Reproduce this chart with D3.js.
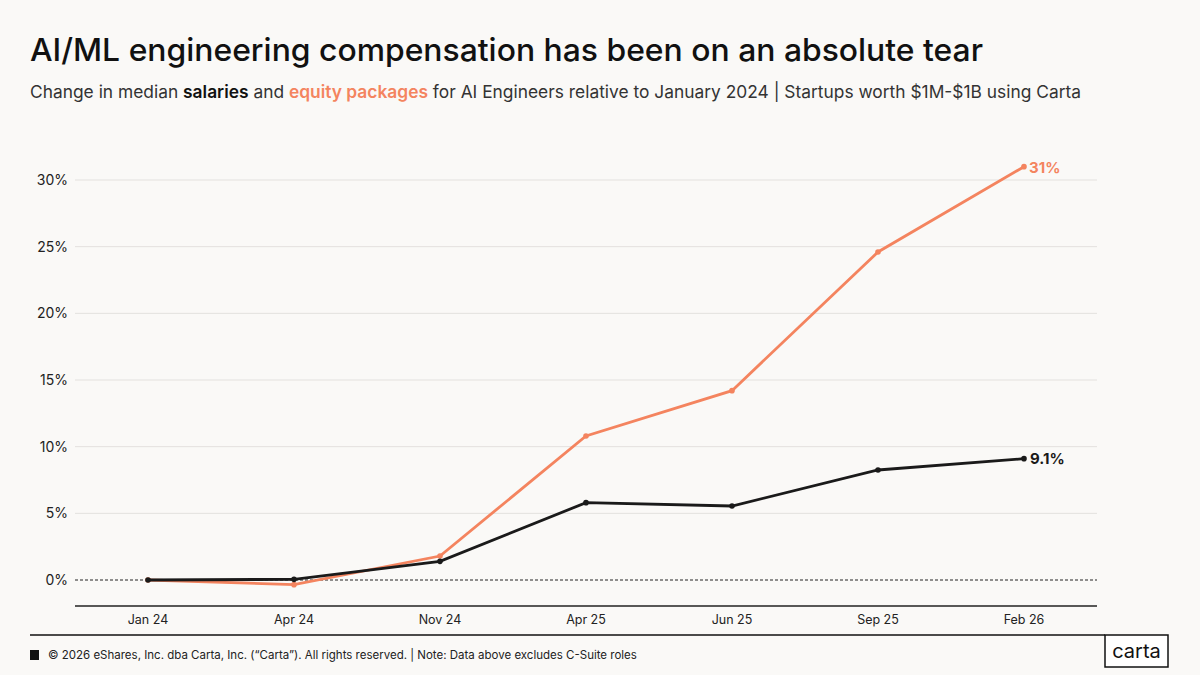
<!DOCTYPE html>
<html><head><meta charset="utf-8">
<script src="https://cdn.jsdelivr.net/npm/d3@7"></script>
<style>body{margin:0;background:#faf9f7;font-family:Inter,"Open Sans",sans-serif}</style>
</head><body><svg id="c" width="1200" height="675"></svg>
<script>
const categories=["Jan 24","Apr 24","Nov 24","Apr 25","Jun 25","Sep 25","Feb 26"];
const salaries=[0,0.05,1.4,5.8,5.55,8.25,9.1];
const equity=[0,-0.35,1.8,10.8,14.2,24.6,31];
const yTicks=[0,5,10,15,20,25,30];
const ORANGE="#f4845f", DARK="#1a1a1a";
const svg=d3.select("#c");
svg.append("rect").attr("width",1200).attr("height",675).attr("fill","#faf9f7");
svg.append("text").attr("x",30).attr("y",61).attr("font-size",31.5).attr("font-weight",500).attr("fill","#111")
 .attr("textLength",953).attr("lengthAdjust","spacingAndGlyphs").text("AI/ML engineering compensation has been on an absolute tear");
const st=svg.append("text").attr("x",30).attr("y",98).attr("font-size",17.5).attr("fill","#333")
 .attr("textLength",1051).attr("lengthAdjust","spacingAndGlyphs");
st.append("tspan").text("Change in median ");
st.append("tspan").attr("font-weight",600).attr("fill","#111").text("salaries");
st.append("tspan").text(" and ");
st.append("tspan").attr("font-weight",600).attr("fill",ORANGE).text("equity packages");
st.append("tspan").text(" for AI Engineers relative to January 2024 | Startups worth $1M-$1B using Carta");
const x=d3.scalePoint().domain(categories).range([75,1097]).padding(0.5);
const y=d3.scaleLinear().domain([-1.95,30]).range([606,180]);
const g=svg.append("g");
g.selectAll("line.grid").data(yTicks.filter(d=>d!==0)).join("line").attr("x1",75).attr("x2",1097)
 .attr("y1",d=>y(d)).attr("y2",d=>y(d)).attr("stroke","#e3e1de");
g.append("line").attr("x1",75).attr("x2",1097).attr("y1",y(0)).attr("y2",y(0)).attr("stroke","#222").attr("stroke-dasharray","3,2");
g.selectAll("text.yt").data(yTicks).join("text").attr("x",68).attr("y",d=>y(d)+5).attr("text-anchor","end")
 .attr("font-size",14).attr("fill","#222").text(d=>d+"%");
g.append("line").attr("x1",75).attr("x2",1097).attr("y1",606).attr("y2",606).attr("stroke","#222").attr("stroke-width",1.5);
g.selectAll("text.xt").data(categories).join("text").attr("x",d=>x(d)).attr("y",624).attr("text-anchor","middle")
 .attr("font-size",12.5).attr("fill","#222").text(d=>d);
const line=d3.line().x((d,i)=>x(categories[i])).y(d=>y(d));
[[equity,ORANGE],[salaries,DARK]].forEach(([data,col])=>{
 g.append("path").attr("d",line(data)).attr("fill","none").attr("stroke",col).attr("stroke-width",2.8);
 g.selectAll(null).data(data).join("circle").attr("cx",(d,i)=>x(categories[i])).attr("cy",d=>y(d)).attr("r",2.8).attr("fill",col);
});
g.append("text").attr("x",x("Feb 26")+5).attr("y",y(31)+6).attr("font-size",15).attr("font-weight",700).attr("fill",ORANGE).text("31%");
g.append("text").attr("x",x("Feb 26")+6).attr("y",y(9.1)+5).attr("font-size",15).attr("font-weight",700).attr("fill",DARK).text("9.1%");
svg.append("line").attr("x1",30).attr("x2",1105).attr("y1",635).attr("y2",635).attr("stroke","#111").attr("stroke-width",1.5);
svg.append("rect").attr("x",30).attr("y",650).attr("width",9).attr("height",10).attr("fill","#111");
svg.append("text").attr("x",48).attr("y",659).attr("font-size",11.5).attr("fill","#222")
 .text("© 2026 eShares, Inc. dba Carta, Inc. (“Carta”). All rights reserved.  |  Note:  Data above excludes C-Suite roles");
svg.append("rect").attr("x",1105).attr("y",635).attr("width",63).attr("height",32).attr("fill","#fff").attr("stroke","#111").attr("stroke-width",1.5);
svg.append("text").attr("x",1136.5).attr("y",658).attr("text-anchor","middle").attr("font-size",20).attr("fill","#111").text("carta");
</script></body></html>
